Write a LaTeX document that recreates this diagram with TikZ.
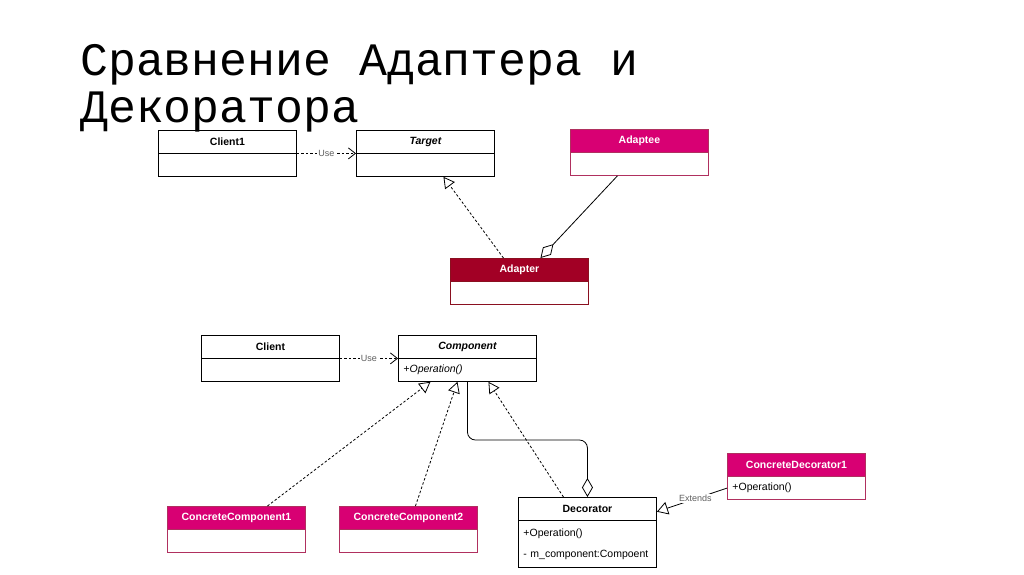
\documentclass[tikz,border=0pt]{standalone}
\usepackage{fontspec}
\setmainfont{Liberation Sans}
\newfontfamily\titlefont{Liberation Mono}
\usepackage{tikz}
\usetikzlibrary{arrows.meta,positioning,calc}
\definecolor{magF}{HTML}{D80073}
\definecolor{magD}{HTML}{B0305F}
\definecolor{crimF}{HTML}{A20025}
\definecolor{crimD}{HTML}{8A1020}
\definecolor{grisL}{RGB}{95,95,95}
\tikzset{
  hdr/.style={rectangle, draw=#1, line width=0.9pt, minimum width=138pt, minimum height=22.5pt,
              inner sep=0pt, align=center, text width=130pt, font=\fontsize{10.5}{12}\selectfont\bfseries},
  bdy/.style={rectangle, draw=#1, line width=0.9pt, fill=white, minimum width=138pt, minimum height=22.5pt,
              inner xsep=5pt, inner ysep=0pt, align=left, text width=128pt, font=\fontsize{10.5}{21}\selectfont},
  dots/.style={line width=0.8pt, dash pattern=on 2.5pt off 2pt},
  usearr/.style={dots, -{Straight Barb[length=7pt, width=11pt]}},
  realarr/.style={dots, -{Triangle[open, length=11pt, width=12pt]}},
  aggrarr/.style={line width=0.8pt, {Diamond[open, length=19pt, width=11pt]}-},
  extarr/.style={line width=0.8pt, -{Triangle[open, length=11pt, width=13pt]}},
  lbl/.style={fill=white, inner sep=1pt, text=grisL, font=\fontsize{9}{10}\selectfont},
}
\begin{document}
\begin{tikzpicture}[x=1pt, y=-1pt, node distance=0pt]
  \fill[white] (0,0) rectangle (1024,574);
  \useasboundingbox (0,0) rectangle (1024,574);
  % title
  \node[anchor=base west, inner sep=0pt, font=\titlefont\fontsize{46.5}{47}\selectfont] (t1) at (80,75) {Сравнение Адаптера и};
  \node[anchor=base west, inner sep=0pt, font=\titlefont\fontsize{46.5}{47}\selectfont] (t2) at (80,122) {Декоратора};
  % adapter
  \node[hdr=black, anchor=north west] (c1h) at (158,130) {Client1};
  \node[bdy=black, below=of c1h] (c1b) {};
  \node[hdr=black, anchor=north west] (tgh) at (356,130) {\itshape Target};
  \node[bdy=black, below=of tgh] (tgb) {};
  \node[hdr=magD, fill=magF, text=white, anchor=north west] (apeh) at (570,129) {Adaptee};
  \node[bdy=magD, below=of apeh] (apeb) {};
  \node[hdr=crimD, fill=crimF, text=white, anchor=north west] (adph) at (450,258) {Adapter};
  \node[bdy=crimD, below=of adph] (adpb) {};
  \draw[usearr] (c1h.south east) -- node[lbl]{Use} (tgh.south west);
  \draw[realarr] ([xshift=-16pt]adph.north) -- ([xshift=18pt]tgb.south);
  \draw[aggrarr] ([xshift=21pt]adph.north) -- ([xshift=-22pt]apeb.south);
  % decorator
  \node[hdr=black, anchor=north west] (clh) at (201,335) {Client};
  \node[bdy=black, below=of clh] (clb) {};
  \node[hdr=black, anchor=north west] (cph) at (398,335) {\itshape Component};
  \node[bdy=black, below=of cph] (cpb) {\itshape +Operation()};
  \node[hdr=magD, fill=magF, text=white, anchor=north west] (cc1h) at (167,506) {ConcreteComponent1};
  \node[bdy=magD, below=of cc1h] (cc1b) {};
  \node[hdr=magD, fill=magF, text=white, anchor=north west] (cc2h) at (339,506) {ConcreteComponent2};
  \node[bdy=magD, below=of cc2h] (cc2b) {};
  \node[hdr=black, anchor=north west] (dech) at (518,497) {Decorator};
  \node[bdy=black, below=of dech, minimum height=47pt] (decb) {+Operation()\\- m\_component:Compoent};
  \node[hdr=magD, fill=magF, text=white, anchor=north west] (cd1h) at (727,453) {ConcreteDecorator1};
  \node[bdy=magD, below=of cd1h] (cd1b) {+Operation()};
  \draw[usearr] (clh.south east) -- node[lbl]{Use} (cph.south west);
  \draw[realarr] ([xshift=31pt]cc1h.north) -- ([xshift=-37pt]cpb.south);
  \draw[realarr] ([xshift=7pt]cc2h.north) -- ([xshift=-10pt]cpb.south);
  \draw[realarr] ([xshift=-24pt]dech.north) -- ([xshift=21pt]cpb.south);
  \draw[aggrarr, rounded corners=8pt] (dech.north) -- ++(0,-57) -| (cpb.south);
  \draw[extarr] (cd1b.west) -- node[lbl, pos=0.45]{Extends} ([yshift=-3pt]dech.east);
\end{tikzpicture}
\end{document}
